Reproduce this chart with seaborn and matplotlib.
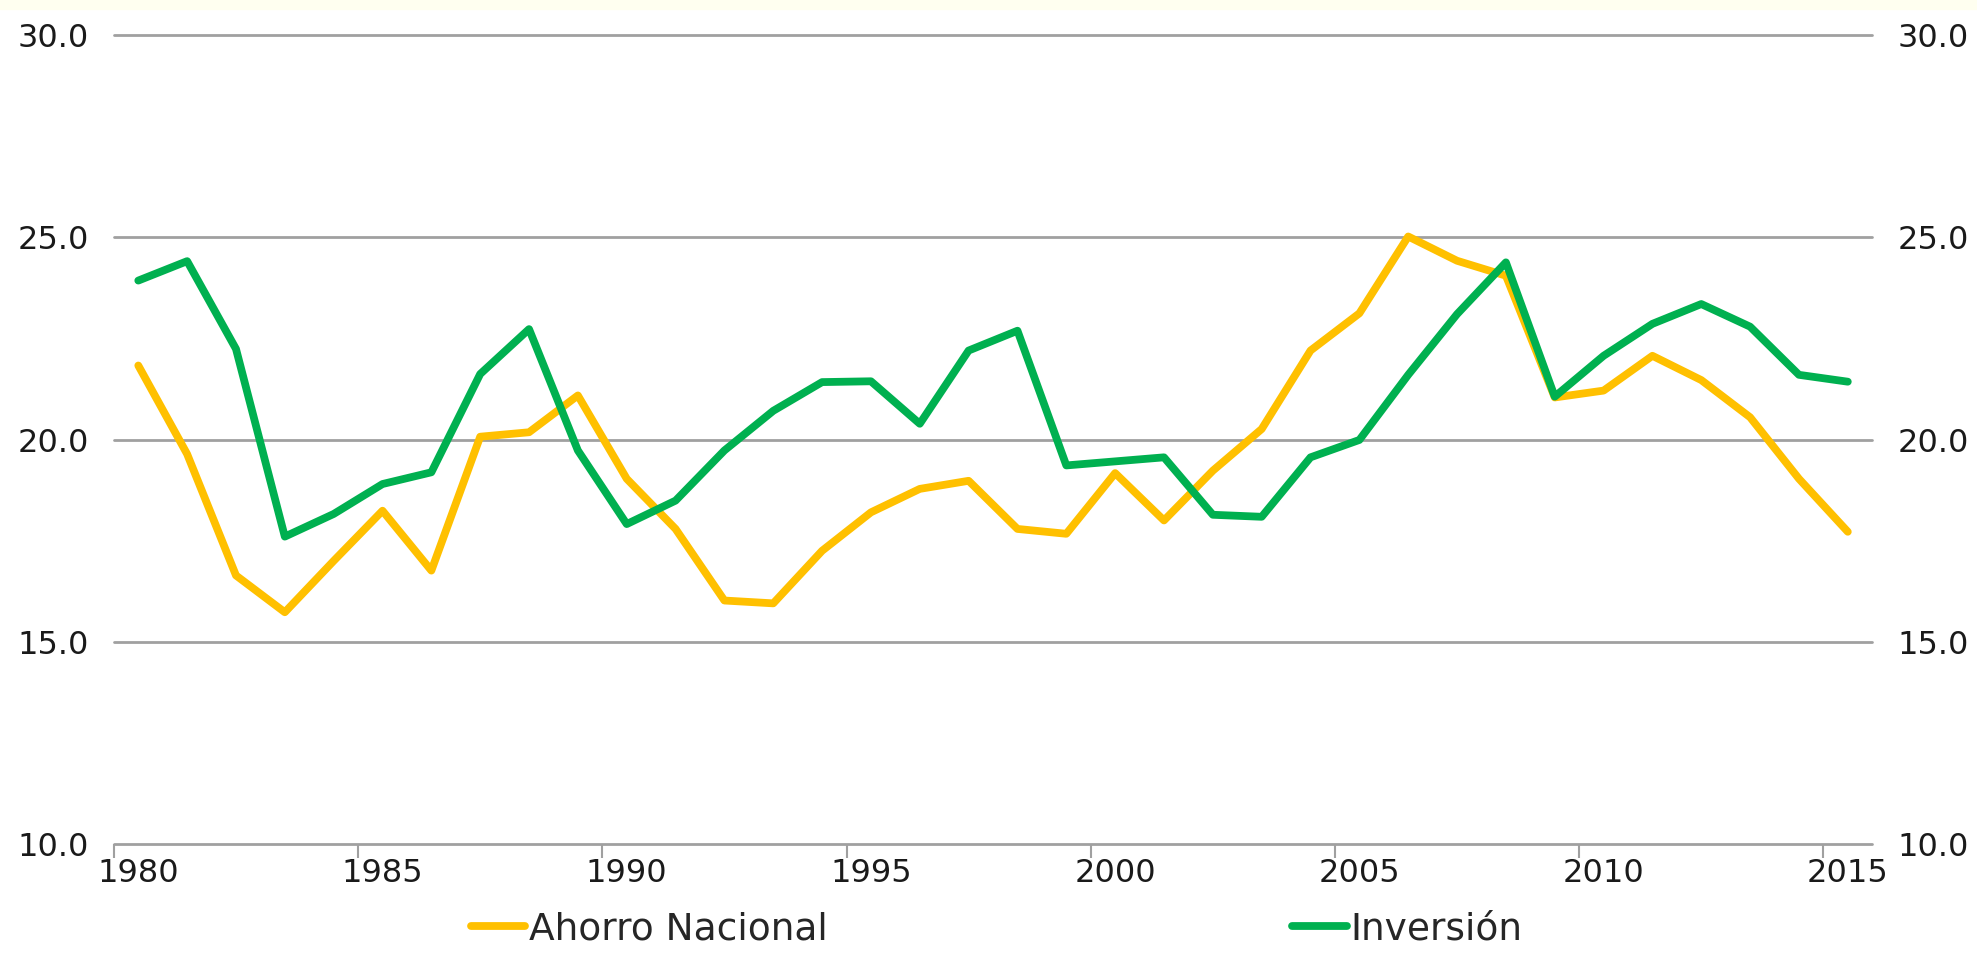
import pandas as pd
import seaborn as sns
import matplotlib.pyplot as plt
from matplotlib.patches import Rectangle

# Data
years = list(range(1980, 2016))
ahorro = [21.83, 19.64, 16.64, 15.73, 17.00, 18.24, 16.76, 20.07, 20.18, 21.09,
          19.03, 17.79, 16.02, 15.95, 17.25, 18.20, 18.78, 18.98, 17.79, 17.67,
          19.17, 18.00, 19.23, 20.26, 22.20, 23.12, 25.02, 24.42, 24.05, 21.04,
          21.21, 22.07, 21.47, 20.55, 19.03, 17.72]
inversion = [23.93, 24.41, 22.24, 17.60, 18.16, 18.90, 19.19, 21.62, 22.73, 19.73,
             17.91, 18.49, 19.73, 20.71, 21.42, 21.44, 20.39, 22.20, 22.69, 19.36,
             19.46, 19.56, 18.14, 18.09, 19.56, 19.99, 21.60, 23.10, 24.38, 21.06,
             22.07, 22.86, 23.35, 22.79, 21.60, 21.43]
series_names = ["Ahorro Nacional", "Inversión"]
colors = ["#FFC000", "#00B050"]
yticks = [10, 15, 20, 25, 30]
xlabels = [1980, 1985, 1990, 1995, 2000, 2005, 2010, 2015]

df = pd.DataFrame({
    "year": years * 2,
    "value": ahorro + inversion,
    "serie": [series_names[0]] * len(years) + [series_names[1]] * len(years),
})

sns.set_style("white")
plt.rcParams['font.family'] = ['DejaVu Sans']

fig = plt.figure(figsize=(19.77, 9.6), dpi=100)
fig.patches.append(Rectangle((0, 0.991), 1, 0.009, transform=fig.transFigure,
                             color="#FFFFF0", zorder=0))
ax = fig.add_axes([0.0576, 0.1208, 0.8894, 0.8427])

sns.lineplot(data=df, x="year", y="value", hue="serie", palette=colors,
             linewidth=5.6, ax=ax, legend=False)

# axes ranges and grid
ax.set_xlim(1979.5, 2015.5)
ax.set_ylim(10, 30)
ax.set_yticks(yticks)
ax.set_yticklabels([f"{v:.1f}" for v in yticks])
for v in yticks:
    ax.axhline(v, color="#A0A0A0", lw=2, zorder=0, clip_on=False)

# tick marks between categories, labels centred on the years
ax.set_xticks([y - 0.5 for y in xlabels])
ax.set_xticklabels([])
ax.set_xticks(xlabels, minor=True)
ax.set_xticklabels([str(y) for y in xlabels], minor=True)
ax.tick_params(axis="x", which="major", length=10, width=1.5, color="#A0A0A0",
               direction="out", bottom=True)
ax.tick_params(axis="x", which="minor", length=0, pad=10, labelsize=23,
               labelcolor="#1a1a1a")
ax.tick_params(axis="y", length=0, labelsize=23, labelcolor="#1a1a1a",
               labelright=True, pad=18)

for s in ax.spines.values():
    s.set_visible(False)
ax.set_xlabel("")
ax.set_ylabel("")

handles = ax.get_lines()[:2]
ax.legend(handles, series_names, loc="center left", ncol=2,
          bbox_to_anchor=(0.238, 0.032), bbox_transform=fig.transFigure,
          frameon=False, fontsize=27, handlelength=1.45, handletextpad=0.1,
          columnspacing=12.4, borderpad=0, borderaxespad=0)

fig.savefig("out.png", dpi=100)
